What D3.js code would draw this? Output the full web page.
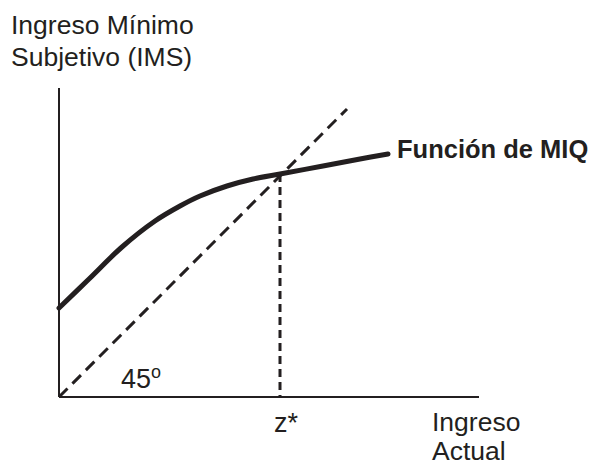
<!DOCTYPE html>
<html>
<head>
<meta charset="utf-8">
<script src="https://cdn.jsdelivr.net/npm/d3@7"></script>
<style>
  body { margin: 0; background: #fff; }
  text { font-family: "Liberation Sans", Arial, sans-serif; fill: #231f20; }
</style>
</head>
<body>
<svg width="601" height="463"></svg>
<script>
// Data (arbitrary units)
var curveX = [0, 30, 63, 96, 121, 141, 168, 194, 221, 264, 301, 329];
var curveY = [89, 118, 150, 176, 191, 201, 211, 218, 223, 231, 238, 243];
var diagonal = [0, 288];
var zStar = 221;
var zStarValue = 223;

var svg = d3.select('svg');

// Scales: one unit = one pixel, same on both axes so the diagonal is 45 degrees
var x = d3.scaleLinear().domain([0, 420]).range([59, 479]);
var y = d3.scaleLinear().domain([0, 309]).range([397, 88]);

// Axes (plain lines, no ticks)
svg.append("line")
  .attr("x1", x(0)).attr("y1", y(0))
  .attr("x2", x(0)).attr("y2", y(309))
  .attr("stroke", "#231f20").attr("stroke-width", 2);
svg.append("line")
  .attr("x1", x(0)).attr("y1", y(0))
  .attr("x2", x(420)).attr("y2", y(0))
  .attr("stroke", "#231f20").attr("stroke-width", 2);

// 45 degree dashed line
svg.append("line")
  .attr("x1", x(diagonal[0])).attr("y1", y(diagonal[0]))
  .attr("x2", x(diagonal[1])).attr("y2", y(diagonal[1]))
  .attr("stroke", "#231f20").attr("stroke-width", 3)
  .attr("stroke-dasharray", "12,7");

// Vertical dashed line at z*
svg.append("line")
  .attr("x1", x(zStar)).attr("y1", y(zStarValue))
  .attr("x2", x(zStar)).attr("y2", y(0))
  .attr("stroke", "#231f20").attr("stroke-width", 3)
  .attr("stroke-dasharray", "8,5");

// MIQ function curve
var line = d3.line()
  .x(d => x(d[0]))
  .y(d => y(d[1]))
  .curve(d3.curveCatmullRom.alpha(0.5));

svg.append("path")
  .datum(d3.zip(curveX, curveY))
  .attr("d", line)
  .attr("fill", "none")
  .attr("stroke", "#231f20")
  .attr("stroke-width", 5)
  .attr("stroke-linecap", "round");

// Labels
var yLabel = svg.append("text").attr("font-size", 26.5);
yLabel.append("tspan").attr("x", 11).attr("y", 34).text("Ingreso Mínimo");
yLabel.append("tspan").attr("x", 11).attr("y", 66).text("Subjetivo (IMS)");

svg.append("text")
  .attr("x", 397).attr("y", 158)
  .attr("font-size", 25.5).attr("font-weight", "bold")
  .text("Función de MIQ");

var angle = svg.append("text").attr("x", 121).attr("y", 388).attr("font-size", 27);
angle.append("tspan").text("45");
angle.append("tspan").attr("font-size", 18).attr("dy", -10).text("o");

svg.append("text")
  .attr("x", x(zStar) - 6).attr("y", 432)
  .attr("font-size", 27)
  .text("z*");

var xLabel = svg.append("text").attr("font-size", 26.5);
xLabel.append("tspan").attr("x", 432).attr("y", 431).text("Ingreso");
xLabel.append("tspan").attr("x", 432).attr("y", 460).text("Actual");
</script>
</body>
</html>
